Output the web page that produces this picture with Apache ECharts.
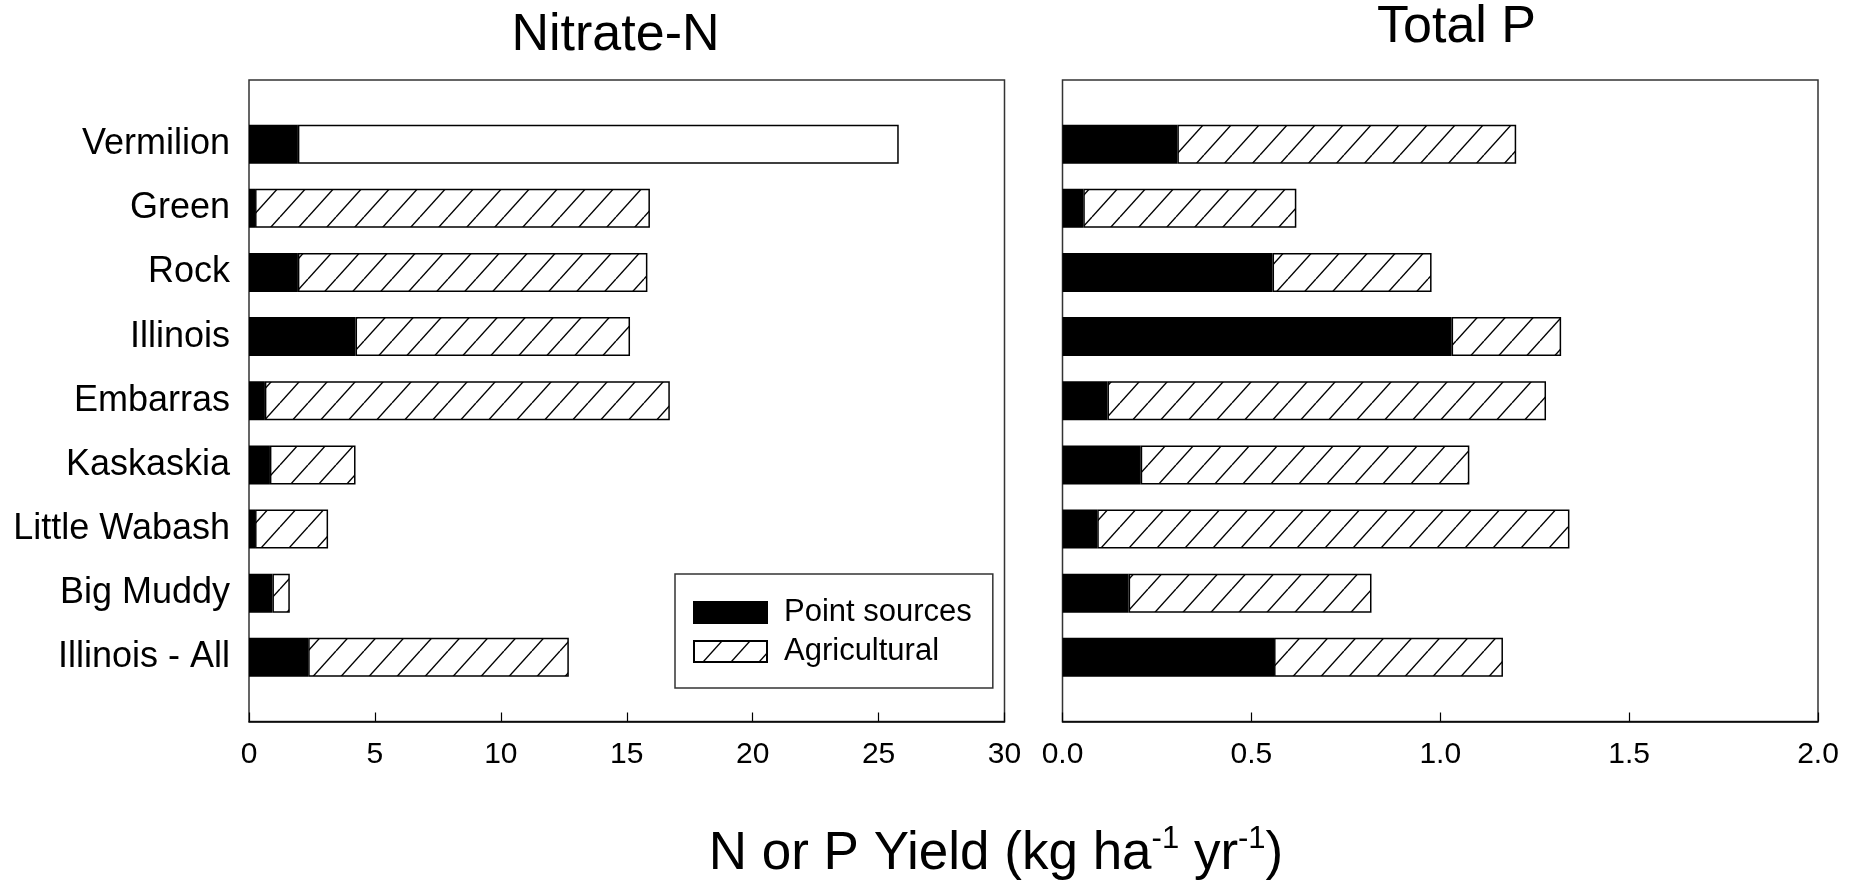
<!DOCTYPE html>
<html>
<head>
<meta charset="utf-8">
<script src="https://cdn.jsdelivr.net/npm/echarts@6/dist/echarts.min.js"></script>
<style>
html,body{margin:0;padding:0;background:#fff;}
#chart{width:1856px;height:886px;}
</style>
</head>
<body>
<div id="chart"></div>
<script>
// ---- data ----
const categories = ['Vermilion','Green','Rock','Illinois','Embarras','Kaskaskia','Little Wabash','Big Muddy','Illinois - All'];
const nitratePoint = [1.94, 0.24, 1.94, 4.23, 0.63, 0.83, 0.24, 0.93, 2.35];
const nitrateAgri  = [23.86, 15.68, 13.88, 10.90, 16.08, 3.40, 2.90, 0.69, 10.35];
const nitrateUnhatched = ['Vermilion'];
const phosPoint = [0.304, 0.055, 0.556, 1.03, 0.119, 0.207, 0.092, 0.175, 0.56];
const phosAgri  = [0.897, 0.564, 0.421, 0.29, 1.161, 0.87, 1.25, 0.643, 0.606];
const nitrateTicks = {min: 0, max: 30, interval: 5};
const phosTicks = {min: 0, max: 2, interval: 0.5};
const seriesNames = ['Point sources', 'Agricultural'];
const panelTitles = ['Nitrate-N', 'Total P'];

// ---- hatch pattern ----
function makeHatch() {
  const w = 28, h = 31;
  const c = document.createElement('canvas');
  c.width = w; c.height = h;
  const g = c.getContext('2d');
  g.fillStyle = '#fff';
  g.fillRect(0, 0, w, h);
  g.strokeStyle = '#000';
  g.lineWidth = 1.4;
  [-w, 0, w].forEach(dx => {
    g.beginPath();
    g.moveTo(dx, h);
    g.lineTo(dx + w, 0);
    g.stroke();
  });
  return c;
}
const hatch = {image: makeHatch(), repeat: 'repeat'};

const FONT = 'Liberation Sans, Arial, Helvetica, sans-serif';
const yCats = [''].concat(categories, ['']);
const pad = arr => ['-'].concat(arr, ['-']);

const chart = echarts.init(document.getElementById('chart'), null, {renderer: 'canvas'});

function xAxisCfg(idx, ticks, fmt) {
  return {
    type: 'value', gridIndex: idx,
    min: ticks.min, max: ticks.max, interval: ticks.interval,
    axisLine: {show: true, lineStyle: {color: '#000', width: 1.5}},
    axisTick: {show: true, inside: true, length: 9, lineStyle: {color: '#000', width: 1.2}},
    splitLine: {show: false},
    axisLabel: {color: '#000', fontSize: 30, fontFamily: FONT, margin: 18, formatter: fmt}
  };
}
function yAxisCfg(idx, showLabels) {
  return {
    type: 'category', gridIndex: idx, data: yCats, inverse: true, boundaryGap: false,
    axisLine: {show: false}, axisTick: {show: false}, splitLine: {show: false},
    axisLabel: {show: showLabels, interval: 0, color: '#000', fontSize: 36, fontFamily: FONT, margin: 19}
  };
}
function barSeries(idx, name, data, color) {
  return {
    type: 'bar', name: name, xAxisIndex: idx, yAxisIndex: idx, stack: 'p' + idx,
    barWidth: 39, data: data,
    itemStyle: {color: color, borderColor: '#000', borderWidth: 1.5},
    emphasis: {disabled: true}, silent: true
  };
}

const nitrateAgriData = pad(nitrateAgri.map((v, i) =>
  nitrateUnhatched.includes(categories[i]) ? {value: v, itemStyle: {color: '#fff'}} : v));

const option = {
  animation: false,
  backgroundColor: '#fff',
  textStyle: {fontFamily: FONT},
  grid: [
    {left: 249, right: 851.5, top: 80, bottom: 164.5, show: true, borderColor: '#333', borderWidth: 1.5, outerBoundsMode: 'none'},
    {left: 1062.5, right: 38, top: 80, bottom: 164.5, show: true, borderColor: '#333', borderWidth: 1.5, outerBoundsMode: 'none'}
  ],
  xAxis: [
    xAxisCfg(0, nitrateTicks, v => String(v)),
    xAxisCfg(1, phosTicks, v => v.toFixed(1))
  ],
  yAxis: [yAxisCfg(0, true), yAxisCfg(1, false)],
  legend: {
    data: seriesNames.map(n => ({name: n, icon: 'rect'})),
    orient: 'vertical', left: 675, top: 574,
    padding: [23, 21, 21, 18], itemWidth: 73, itemHeight: 21, itemGap: 8,
    borderColor: '#333', borderWidth: 1.5, selectedMode: false,
    textStyle: {color: '#000', fontSize: 31, fontFamily: FONT, padding: [0, 0, 0, 12]}
  },
  series: [
    barSeries(0, seriesNames[0], pad(nitratePoint), '#000'),
    barSeries(0, seriesNames[1], nitrateAgriData, hatch),
    barSeries(1, seriesNames[0], pad(phosPoint), '#000'),
    barSeries(1, seriesNames[1], pad(phosAgri), hatch)
  ],
  graphic: [
    {type: 'text', x: 615.5, y: 35.3, style: {text: panelTitles[0], fontSize: 52, fontFamily: FONT, fill: '#000', align: 'center', verticalAlign: 'middle'}},
    {type: 'text', x: 1456.5, y: 27.5, style: {text: panelTitles[1], fontSize: 52, fontFamily: FONT, fill: '#000', align: 'center', verticalAlign: 'middle'}},
    {type: 'text', x: 996, y: 854, style: {
      text: '{m|N or P Yield (kg ha}{s|-1}{m| yr}{s|-1}{m|)}',
      align: 'center', verticalAlign: 'middle',
      rich: {
        m: {fontSize: 53, fontFamily: FONT, fill: '#000', lineHeight: 60},
        s: {fontSize: 31, fontFamily: FONT, fill: '#000', verticalAlign: 'top', lineHeight: 31}
      }
    }}
  ]
};
chart.setOption(option);
</script>
</body>
</html>
